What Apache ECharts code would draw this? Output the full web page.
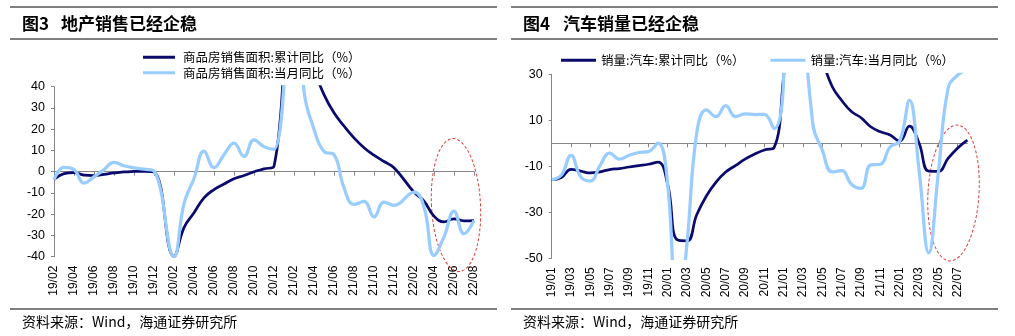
<!DOCTYPE html>
<html>
<head>
<meta charset="utf-8">
<script src="https://cdn.jsdelivr.net/npm/echarts@6/dist/echarts.min.js"></script>
<style>
html,body{margin:0;padding:0;background:#fff;}
#c{width:1015px;height:336px;}
</style>
</head>
<body>
<div id="c"></div>
<script>
// ---- Figure 3: commercial housing sales area YoY (%) ----
const houseMonths = [
  '19/02','19/03','19/04','19/05','19/06','19/07','19/08','19/09','19/10','19/11','19/12',
  '20/01','20/02','20/03','20/04','20/05','20/06','20/07','20/08','20/09','20/10','20/11','20/12',
  '21/01','21/02','21/03','21/04','21/05','21/06','21/07','21/08','21/09','21/10','21/11','21/12',
  '22/01','22/02','22/03','22/04','22/05','22/06','22/07','22/08'
];
const houseCumulative = [
  -3.6, -0.9, -0.4, -1.6, -1.8, -1.3, -0.6, -0.1, 0.1, 0.2, -0.1,
  null, -39.9, -26.3, -19.3, -12.3, -8.4, -5.8, -3.3, -1.8, 0.0, 1.3, 2.6,
  null, 104.9, 63.8, 48.1, 36.3, 27.7, 21.5, 15.9, 11.3, 7.8, 4.8, 1.9,
  null, -9.6, -13.8, -20.9, -23.6, -22.2, -23.1, -23.0
];
const houseMonthly = [
  -3.8, 2.0, 1.0, -5.4, -2.4, 1.0, 4.4, 2.8, 1.8, 1.2, 0.3,
  null, -39.9, -15.0, -3.2, 9.7, 1.9, 8.0, 13.4, 7.2, 15.0, 11.8, 10.5,
  null, 104.9, 38.0, 20.0, 9.5, 8.0, -7.5, -15.4, -14.0, -21.3, -14.3, -15.8,
  null, -9.6, -16.6, -39.4, -30.7, -18.5, -29.2, -22.9
];
const houseNames = ['商品房销售面积:累计同比（%）', '商品房销售面积:当月同比（%）'];

// ---- Figure 4: auto sales YoY (%) ----
const autoMonths = [
  '19/01','19/02','19/03','19/04','19/05','19/06','19/07','19/08','19/09','19/10','19/11','19/12',
  '20/01','20/02','20/03','20/04','20/05','20/06','20/07','20/08','20/09','20/10','20/11','20/12',
  '21/01','21/02','21/03','21/04','21/05','21/06','21/07','21/08','21/09','21/10','21/11','21/12',
  '22/01','22/02','22/03','22/04','22/05','22/06','22/07','22/08'
];
const autoCumulative = [
  -15.8, -14.9, -11.3, -12.1, -12.9, -12.4, -11.4, -11.0, -10.3, -9.7, -9.1, -8.2,
  -18.0, -42.0, -42.4, -31.1, -22.9, -16.9, -12.5, -9.7, -6.9, -4.7, -2.9, -1.9,
  29.5, 76.0, 75.6, 51.8, 36.6, 24.8, 18.6, 13.8, 11.1, 7.2, 5.0, 3.6,
  0.9, 7.5, 0.0, -12.1, -12.2, -6.6, -2.0, 1.4
];
const autoMonthly = [
  -15.8, -13.8, -5.2, -14.6, -16.4, -9.6, -4.3, -6.9, -5.2, -4.0, -3.6, 0.1,
  -18.0, -79.1, -43.3, 4.4, 14.5, 11.6, 16.4, 11.6, 12.8, 12.5, 12.6, 6.4,
  29.5, 364.6, 74.9, 8.6, -3.1, -12.4, -11.9, -17.8, -19.6, -9.4, -9.1, -1.6,
  0.9, 18.7, -11.7, -47.6, -12.6, 23.8, 29.7, 32.1
];
const autoNames = ['销量:汽车:累计同比（%）', '销量:汽车:当月同比（%）'];

const DARK = '#0b0b6e';
const LIGHT = '#99ccff';
const AXIS = '#868686';
const CJK = '"Noto Sans CJK SC", sans-serif';
const LATIN = '"Liberation Sans", Arial, sans-serif';

function labelAxis(grid, cats) {
  return {
    gridIndex: grid, type: 'category', data: cats, boundaryGap: false, position: 'bottom',
    axisLine: { show: false, onZero: false }, axisTick: { show: false },
    axisLabel: { interval: 1, rotate: 90, margin: 9, fontSize: 12, fontFamily: LATIN, color: '#000' },
    splitLine: { show: false }
  };
}
function zeroAxis(grid, cats) {
  return {
    gridIndex: grid, type: 'category', data: cats, boundaryGap: false, position: 'bottom',
    axisLine: { show: true, onZero: true, lineStyle: { color: AXIS, width: 1 } },
    axisTick: { show: true, interval: 1, length: 4, lineStyle: { color: AXIS, width: 1 } },
    axisLabel: { show: false }, splitLine: { show: false }
  };
}
function valueAxis(grid, min, max, interval) {
  return {
    gridIndex: grid, type: 'value', min: min, max: max, interval: interval,
    axisLine: { show: true, onZero: false, lineStyle: { color: AXIS, width: 1 } },
    axisTick: { show: true, length: 3, lineStyle: { color: AXIS, width: 1 } },
    axisLabel: { margin: 9, fontSize: 12.5, fontFamily: LATIN, color: '#000' },
    splitLine: { show: false }
  };
}
function lineSeries(name, data, xi, yi, color, width) {
  return {
    name: name, type: 'line', data: data, xAxisIndex: xi, yAxisIndex: yi,
    smooth: 0.45, connectNulls: true, symbol: 'none', showSymbol: false,
    clip: true, animation: false,
    lineStyle: { color: color, width: width }, itemStyle: { color: color }
  };
}

function hLine(x1, x2, y) {
  return { type: 'line', shape: { x1: x1, y1: y, x2: x2, y2: y }, style: { stroke: '#000', lineWidth: 1.2 }, silent: true };
}
function text(x, y, str, font) {
  return { type: 'text', x: x, y: y, silent: true,
    style: { text: str, font: font, fill: '#000', align: 'left', verticalAlign: 'middle' } };
}
function ellipse(cx, cy, rx, ry, rot) {
  return { type: 'ellipse', x: cx, y: cy, rotation: rot, silent: true,
    shape: { cx: 0, cy: 0, rx: rx, ry: ry },
    style: { fill: 'none', stroke: '#e0403a', lineWidth: 1, lineDash: [3, 2] } };
}

const chart = echarts.init(document.getElementById('c'), null, { renderer: 'canvas' });
chart.setOption({
  animation: false,
  backgroundColor: '#fff',
  grid: [
    { left: 54, top: 86.7, width: 420, height: 170, outerBoundsMode: 'none', containLabel: false },
    { left: 551.7, top: 74.3, width: 415.7, height: 184, outerBoundsMode: 'none', containLabel: false }
  ],
  xAxis: [labelAxis(0, houseMonths), zeroAxis(0, houseMonths), labelAxis(1, autoMonths), zeroAxis(1, autoMonths)],
  yAxis: [valueAxis(0, -40, 40, 10), valueAxis(1, -50, 30, 20)],
  legend: [
    { data: houseNames, orient: 'vertical', left: 143, top: 51, padding: 0, itemGap: 3,
      icon: 'rect', itemWidth: 32, itemHeight: 3,
      textStyle: { fontSize: 12.5, fontFamily: CJK, color: '#000', padding: [0, 0, 0, 3] } },
    { data: autoNames, orient: 'horizontal', left: 561, top: 54, padding: 0, itemGap: 26,
      icon: 'rect', itemWidth: 35, itemHeight: 3,
      textStyle: { fontSize: 12.5, fontFamily: CJK, color: '#000' } }
  ],
  series: [
    lineSeries(houseNames[0], houseCumulative, 0, 0, DARK, 2.75),
    lineSeries(houseNames[1], houseMonthly, 0, 0, LIGHT, 3.25),
    lineSeries(autoNames[0], autoCumulative, 2, 1, DARK, 2.75),
    lineSeries(autoNames[1], autoMonthly, 2, 1, LIGHT, 3.25)
  ],
  graphic: [
    hLine(10, 497, 7), hLine(10, 497, 39), hLine(10, 497, 309),
    hLine(511, 998, 7), hLine(511, 998, 39), hLine(511, 998, 309),
    text(22, 24, '图3', 'bold 17px ' + CJK),
    text(61, 24, '地产销售已经企稳', 'bold 17px ' + CJK),
    text(523, 24, '图4', 'bold 17px ' + CJK),
    text(563, 24, '汽车销量已经企稳', 'bold 17px ' + CJK),
    text(22, 322, '资料来源：Wind，海通证券研究所', '14px ' + CJK),
    text(523, 322, '资料来源：Wind，海通证券研究所', '14px ' + CJK),
    ellipse(456, 205, 24.5, 66.5, 0.05),
    ellipse(953.5, 193, 25.5, 68, -0.06)
  ]
});
</script>
</body>
</html>
